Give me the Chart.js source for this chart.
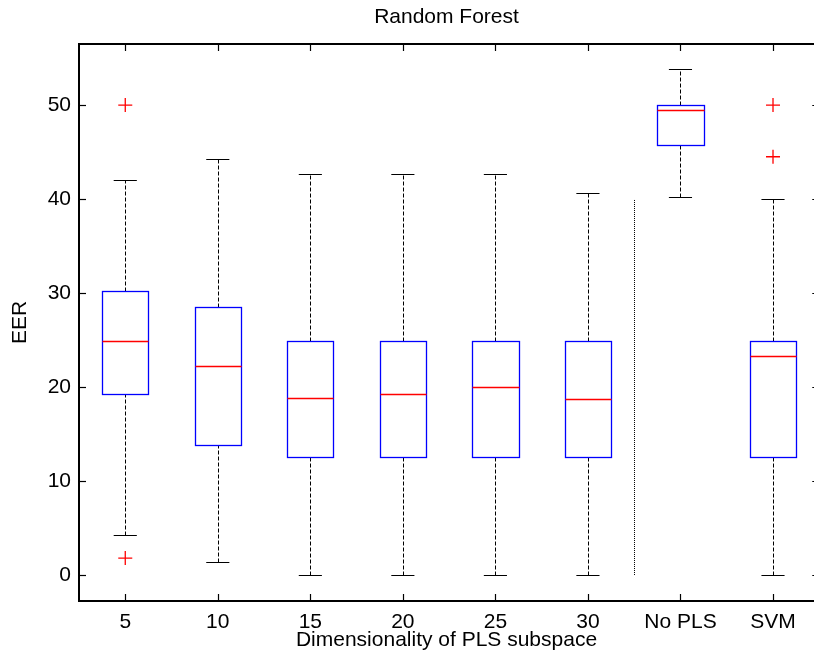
<!DOCTYPE html>
<html>
<head>
<meta charset="utf-8">
<title>Random Forest</title>
<script src="https://cdn.jsdelivr.net/npm/chart.js@4.4.1/dist/chart.umd.min.js"></script>
<style>
  html, body { margin: 0; padding: 0; background: #fff; overflow: hidden; }
  canvas { display: block; }
</style>
</head>
<body>
<canvas id="chart" width="814" height="658"></canvas>
<script>
// EER per method: boxplot summary (whiskers, quartiles, median) and outliers
const labels = ['5', '10', '15', '20', '25', '30', 'No PLS', 'SVM']
const whiskerLow = [4.2, 1.4, 0, 0, 0, 0, 40.2, 0]
const q1 = [19.3, 13.8, 12.5, 12.5, 12.5, 12.5, 45.8, 12.5]
const medians = [24.9, 22.2, 18.8, 19.3, 20.0, 18.7, 49.5, 23.3]
const q3 = [30.2, 28.5, 24.9, 24.9, 24.9, 24.9, 50.0, 24.9]
const whiskerHigh = [42.0, 44.3, 42.7, 42.7, 42.7, 40.6, 53.8, 40.0]
const outliers = [[50, 1.8], [], [], [], [], [], [], [50, 44.5]]
const yTicks = [0, 10, 20, 30, 40, 50]

// dotted divider between the PLS runs and the baselines
const divider = { x: 6.5, from: 0, to: 40 }

// the axes box spans 0.5..8.5, its right edge falls just past the canvas
const xLimit = 8.5
const xVisible = 8.443

const FONT = { family: '"Liberation Sans", Arial, Helvetica, sans-serif', size: 21, weight: 'normal' }

const crisp = v => Math.round(v) + 0.5

function seg(ctx, x1, y1, x2, y2) {
    ctx.beginPath()
    ctx.moveTo(x1, y1)
    ctx.lineTo(x2, y2)
    ctx.stroke()
}

const boxPlot = {
    id: 'boxPlot',
    beforeDatasetsDraw(chart) {
        const { ctx, scales: { x, y } } = chart
        ctx.save()
        labels.forEach((_, i) => {
            const c = i + 1
            const cx = crisp(x.getPixelForValue(c))
            const capL = x.getPixelForValue(c - 0.125), capR = x.getPixelForValue(c + 0.125)
            const boxL = crisp(x.getPixelForValue(c - 0.25)), boxR = crisp(x.getPixelForValue(c + 0.25))
            const yLo = crisp(y.getPixelForValue(whiskerLow[i]))
            const yHi = crisp(y.getPixelForValue(whiskerHigh[i]))
            const yQ1 = crisp(y.getPixelForValue(q1[i]))
            const yQ3 = crisp(y.getPixelForValue(q3[i]))
            const yMed = crisp(y.getPixelForValue(medians[i]))

            // dashed whiskers
            ctx.strokeStyle = '#000'
            ctx.lineWidth = 1
            ctx.setLineDash([4, 2])
            seg(ctx, cx, yLo, cx, yQ1)
            seg(ctx, cx, yQ3, cx, yHi)
            ctx.setLineDash([])
            seg(ctx, capL, yLo, capR, yLo)
            seg(ctx, capL, yHi, capR, yHi)

            // box and median
            ctx.strokeStyle = '#0000ff'
            ctx.lineWidth = 1.3
            ctx.strokeRect(boxL, yQ3, boxR - boxL, yQ1 - yQ3)
            ctx.strokeStyle = '#ff0000'
            seg(ctx, boxL, yMed, boxR, yMed)
        })

        ctx.strokeStyle = '#000'
        ctx.lineWidth = 1
        ctx.setLineDash([1, 1])
        const dx = crisp(x.getPixelForValue(divider.x))
        seg(ctx, dx, y.getPixelForValue(divider.from), dx, y.getPixelForValue(divider.to))
        ctx.restore()
    },
    afterDraw(chart) {
        // axes box with inward ticks on all four sides
        const { ctx, chartArea: a, scales: { x, y } } = chart
        const right = x.getPixelForValue(xLimit)
        ctx.save()
        ctx.strokeStyle = '#000'
        ctx.lineWidth = 1.2
        const tl = 7
        yTicks.forEach(v => {
            const py = crisp(y.getPixelForValue(v))
            seg(ctx, a.left, py, a.left + tl, py)
            seg(ctx, right, py, right - tl, py)
        })
        labels.forEach((_, i) => {
            const px = crisp(x.getPixelForValue(i + 1))
            seg(ctx, px, a.bottom, px, a.bottom - tl)
            seg(ctx, px, a.top, px, a.top + tl)
        })
        ctx.lineWidth = 2
        ctx.strokeRect(a.left, a.top, right - a.left, a.bottom - a.top)
        ctx.restore()
    }
}

new Chart(document.getElementById('chart').getContext('2d'), {
    type: 'scatter',
    data: {
        datasets: [{
            label: 'Outliers',
            data: outliers.flatMap((vals, i) => vals.map(v => ({ x: i + 1, y: v }))),
            pointStyle: 'cross',
            radius: 7,
            borderColor: '#ff0000',
            borderWidth: 1.3,
        }]
    },
    options: {
        responsive: false,
        animation: false,
        events: [],
        layout: { autoPadding: false, padding: 0 },
        plugins: {
            legend: { display: false },
            tooltip: { enabled: false },
            title: {
                display: true,
                fullSize: false,
                align: 'center',
                text: 'Random Forest',
                color: '#000',
                font: FONT,
                padding: { top: 4.4, bottom: 14.4 },
            },
        },
        scales: {
            x: {
                type: 'linear',
                min: 0.5,
                max: xVisible,
                grid: { display: false, drawTicks: false },
                border: { display: false },
                afterBuildTicks: s => { s.ticks = labels.map((_, i) => ({ value: i + 1 })) },
                ticks: {
                    callback: v => labels[Math.round(v) - 1] ?? '',
                    color: '#000',
                    font: FONT,
                    padding: 9,
                    maxRotation: 0,
                    autoSkip: false,
                },
                title: {
                    display: true,
                    text: 'Dimensionality of PLS subspace',
                    color: '#000',
                    font: FONT,
                    padding: { top: 0, bottom: 5.4 },
                },
                afterFit: s => {
                    s.height = 57
                    s.paddingLeft = 0
                    s.paddingRight = 0
                },
            },
            y: {
                type: 'linear',
                min: -2.77,
                max: 56.5,
                grid: { display: false, drawTicks: false },
                border: { display: false },
                afterBuildTicks: s => { s.ticks = yTicks.map(v => ({ value: v })) },
                ticks: { color: '#000', font: FONT, padding: 8 },
                title: {
                    display: true,
                    text: 'EER',
                    color: '#000',
                    font: FONT,
                    padding: { top: 7.4, bottom: 0 },
                },
                afterFit: s => {
                    s.width = 79
                    s.paddingTop = 0
                    s.paddingBottom = 0
                },
            },
        },
    },
    plugins: [boxPlot],
})
</script>
</body>
</html>
